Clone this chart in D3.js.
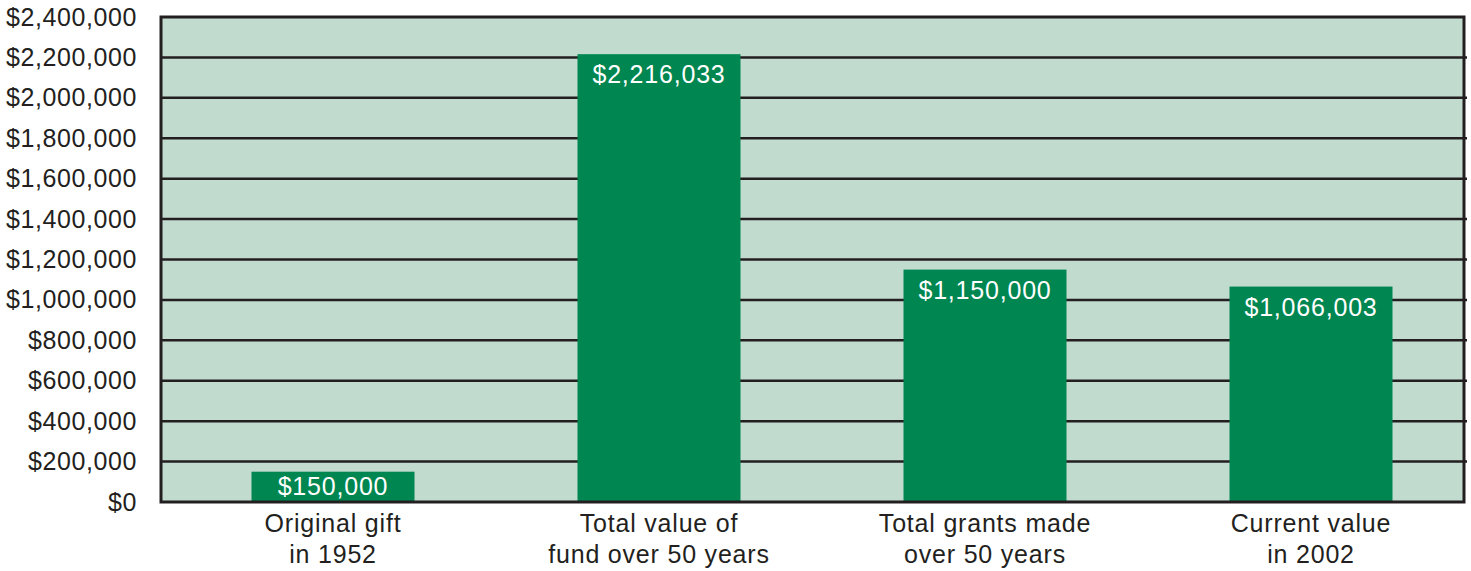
<!DOCTYPE html>
<html>
<head>
<meta charset="utf-8">
<script src="https://cdn.jsdelivr.net/npm/d3@7"></script>
<style>
  body { margin: 0; background: #fff; }
  text { font-family: "Liberation Sans", Arial, Helvetica, sans-serif; }
</style>
</head>
<body>
<script>
// data
const categories = [
  ['Original gift', 'in 1952'],
  ['Total value of', 'fund over 50 years'],
  ['Total grants made', 'over 50 years'],
  ['Current value', 'in 2002']
]
const values = [150000, 2216033, 1150000, 1066003]
const yTicks = [0, 200000, 400000, 600000, 800000, 1000000, 1200000,
  1400000, 1600000, 1800000, 2000000, 2200000, 2400000]

const width = 1471
const height = 571

// plot box
const plotLeft = 161
const plotRight = 1464
const plotTop = 17
const plotBottom = 502

const fmt = d3.format('$,.0f')

const svg = d3.select('body')
  .append('svg')
  .attr('width', width)
  .attr('height', height)

const xScale = d3.scaleBand()
  .domain(d3.range(values.length))
  .range([170, 1474])
  .paddingInner(0.5)
  .paddingOuter(0.25)

const yScale = d3.scaleLinear()
  .domain([0, 2400000])
  .range([plotBottom, plotTop])

// background
svg.append('rect')
  .attr('x', plotLeft)
  .attr('y', plotTop)
  .attr('width', plotRight - plotLeft)
  .attr('height', plotBottom - plotTop)
  .attr('fill', '#c2dbcf')

// grid lines
svg.append('g')
  .selectAll('line')
  .data(yTicks.filter(d => d > 0 && d < 2400000))
  .enter()
  .append('line')
  .attr('x1', plotLeft)
  .attr('x2', plotRight + 3)
  .attr('y1', d => yScale(d))
  .attr('y2', d => yScale(d))
  .attr('stroke', '#231f20')
  .attr('stroke-width', 2.5)

// bars
svg.append('g')
  .selectAll('rect')
  .data(values)
  .enter()
  .append('rect')
  .attr('x', (d, i) => xScale(i))
  .attr('y', d => yScale(d))
  .attr('width', xScale.bandwidth())
  .attr('height', d => plotBottom - yScale(d))
  .attr('fill', '#008650')

// bar labels
svg.append('g')
  .selectAll('text')
  .data(values)
  .enter()
  .append('text')
  .attr('x', (d, i) => xScale(i) + xScale.bandwidth() / 2)
  .attr('y', d => Math.min(yScale(d) + 29, plotBottom - 7))
  .attr('text-anchor', 'middle')
  .attr('fill', '#fff')
  .style('font-size', '25px')
  .style('letter-spacing', '0.8px')
  .text(d => fmt(d))

// frame
svg.append('path')
  .attr('d', `M${plotLeft},${plotTop}H${plotRight}V${plotBottom}H${plotLeft}Z`)
  .attr('fill', 'none')
  .attr('stroke', '#231f20')
  .attr('stroke-width', 3)

// y axis labels
const yAxis = d3.axisLeft(yScale)
  .tickValues(yTicks)
  .tickFormat(fmt)
  .tickSize(0)
  .tickPadding(24)

const yg = svg.append('g')
  .attr('transform', `translate(${plotLeft}, 0)`)
  .call(yAxis)

yg.attr('font-family', null).attr('font-size', null)
yg.select('.domain').remove()
yg.selectAll('text')
  .attr('fill', '#231f20')
  .style('font-size', '25px')
  .style('letter-spacing', '0.6px')

// category labels
const cat = svg.append('g')
  .selectAll('text')
  .data(categories)
  .enter()
  .append('text')
  .attr('x', (d, i) => xScale(i) + xScale.bandwidth() / 2)
  .attr('y', 532)
  .attr('text-anchor', 'middle')
  .attr('fill', '#231f20')
  .style('font-size', '25px')
  .style('letter-spacing', '0.8px')

cat.selectAll('tspan')
  .data(d => d)
  .enter()
  .append('tspan')
  .attr('x', function () { return this.parentNode.getAttribute('x') })
  .attr('dy', (d, i) => i === 0 ? 0 : 31)
  .text(d => d)
</script>
</body>
</html>
